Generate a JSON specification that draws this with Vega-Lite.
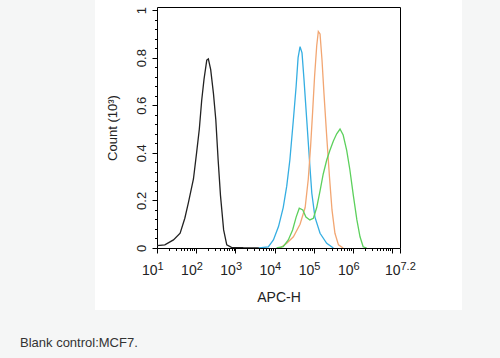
{
  "$schema": "https://vega.github.io/schema/vega-lite/v6.json",
  "width": 243,
  "height": 241,
  "autosize": "none",
  "padding": {"left": 157, "top": 7, "right": 100, "bottom": 110},
  "background": "#f5f6f6",
  "config": {
    "font": "Liberation Sans",
    "view": {"stroke": "white", "strokeWidth": 124, "fill": "white"},
    "axis": {"domainColor": "#000", "tickColor": "#000", "labelColor": "#222", "titleColor": "#222", "titleFontWeight": "normal", "grid": false, "labelFont": "Liberation Sans", "titleFont": "Liberation Sans"}
  },
  "title": {"text": "Blank control:MCF7.", "orient": "bottom", "anchor": "start", "frame": "group", "dx": -137, "offset": 33, "fontSize": 13, "fontWeight": "normal", "color": "#333", "font": "Liberation Sans"},
  "data": {"values": [
    {"sample": "Blank control", "log_apc": 1.0, "count": 0.01},
    {"sample": "Blank control", "log_apc": 1.2, "count": 0.013},
    {"sample": "Blank control", "log_apc": 1.42, "count": 0.034},
    {"sample": "Blank control", "log_apc": 1.59, "count": 0.062},
    {"sample": "Blank control", "log_apc": 1.71, "count": 0.125},
    {"sample": "Blank control", "log_apc": 1.8, "count": 0.19},
    {"sample": "Blank control", "log_apc": 1.93, "count": 0.29},
    {"sample": "Blank control", "log_apc": 2.01, "count": 0.4},
    {"sample": "Blank control", "log_apc": 2.08, "count": 0.5},
    {"sample": "Blank control", "log_apc": 2.14, "count": 0.62},
    {"sample": "Blank control", "log_apc": 2.2, "count": 0.71},
    {"sample": "Blank control", "log_apc": 2.27, "count": 0.79},
    {"sample": "Blank control", "log_apc": 2.31, "count": 0.795},
    {"sample": "Blank control", "log_apc": 2.37, "count": 0.75},
    {"sample": "Blank control", "log_apc": 2.44, "count": 0.65},
    {"sample": "Blank control", "log_apc": 2.5, "count": 0.54},
    {"sample": "Blank control", "log_apc": 2.56, "count": 0.37},
    {"sample": "Blank control", "log_apc": 2.62, "count": 0.22},
    {"sample": "Blank control", "log_apc": 2.7, "count": 0.076},
    {"sample": "Blank control", "log_apc": 2.78, "count": 0.013},
    {"sample": "Blank control", "log_apc": 2.9, "count": 0.003},
    {"sample": "Blank control", "log_apc": 3.2, "count": 0.001},
    {"sample": "Blank control", "log_apc": 3.6, "count": 0},
    {"sample": "Sample 1", "log_apc": 3.6, "count": 0},
    {"sample": "Sample 1", "log_apc": 3.84, "count": 0.005},
    {"sample": "Sample 1", "log_apc": 3.97, "count": 0.034},
    {"sample": "Sample 1", "log_apc": 4.1, "count": 0.09},
    {"sample": "Sample 1", "log_apc": 4.22, "count": 0.17},
    {"sample": "Sample 1", "log_apc": 4.31, "count": 0.26},
    {"sample": "Sample 1", "log_apc": 4.39, "count": 0.37},
    {"sample": "Sample 1", "log_apc": 4.48, "count": 0.54},
    {"sample": "Sample 1", "log_apc": 4.55, "count": 0.68},
    {"sample": "Sample 1", "log_apc": 4.6, "count": 0.8},
    {"sample": "Sample 1", "log_apc": 4.65, "count": 0.846},
    {"sample": "Sample 1", "log_apc": 4.7, "count": 0.82},
    {"sample": "Sample 1", "log_apc": 4.75, "count": 0.71},
    {"sample": "Sample 1", "log_apc": 4.82, "count": 0.54},
    {"sample": "Sample 1", "log_apc": 4.89, "count": 0.37},
    {"sample": "Sample 1", "log_apc": 4.95, "count": 0.23},
    {"sample": "Sample 1", "log_apc": 5.03, "count": 0.13},
    {"sample": "Sample 1", "log_apc": 5.16, "count": 0.062},
    {"sample": "Sample 1", "log_apc": 5.33, "count": 0.02},
    {"sample": "Sample 1", "log_apc": 5.5, "count": 0},
    {"sample": "Sample 2", "log_apc": 4.14, "count": 0},
    {"sample": "Sample 2", "log_apc": 4.31, "count": 0.02},
    {"sample": "Sample 2", "log_apc": 4.48, "count": 0.047},
    {"sample": "Sample 2", "log_apc": 4.65, "count": 0.1},
    {"sample": "Sample 2", "log_apc": 4.78, "count": 0.17},
    {"sample": "Sample 2", "log_apc": 4.86, "count": 0.29},
    {"sample": "Sample 2", "log_apc": 4.92, "count": 0.43},
    {"sample": "Sample 2", "log_apc": 4.97, "count": 0.57},
    {"sample": "Sample 2", "log_apc": 5.02, "count": 0.72},
    {"sample": "Sample 2", "log_apc": 5.075, "count": 0.85},
    {"sample": "Sample 2", "log_apc": 5.116, "count": 0.91},
    {"sample": "Sample 2", "log_apc": 5.16, "count": 0.9},
    {"sample": "Sample 2", "log_apc": 5.21, "count": 0.79},
    {"sample": "Sample 2", "log_apc": 5.26, "count": 0.65},
    {"sample": "Sample 2", "log_apc": 5.33, "count": 0.47},
    {"sample": "Sample 2", "log_apc": 5.4, "count": 0.3},
    {"sample": "Sample 2", "log_apc": 5.465, "count": 0.16},
    {"sample": "Sample 2", "log_apc": 5.54, "count": 0.062},
    {"sample": "Sample 2", "log_apc": 5.63, "count": 0.013},
    {"sample": "Sample 2", "log_apc": 5.75, "count": 0},
    {"sample": "Sample 3", "log_apc": 4.05, "count": 0},
    {"sample": "Sample 3", "log_apc": 4.22, "count": 0.006},
    {"sample": "Sample 3", "log_apc": 4.35, "count": 0.034},
    {"sample": "Sample 3", "log_apc": 4.46, "count": 0.076},
    {"sample": "Sample 3", "log_apc": 4.55, "count": 0.13},
    {"sample": "Sample 3", "log_apc": 4.63, "count": 0.167},
    {"sample": "Sample 3", "log_apc": 4.72, "count": 0.16},
    {"sample": "Sample 3", "log_apc": 4.8, "count": 0.13},
    {"sample": "Sample 3", "log_apc": 4.9, "count": 0.118},
    {"sample": "Sample 3", "log_apc": 4.99, "count": 0.125},
    {"sample": "Sample 3", "log_apc": 5.075, "count": 0.17},
    {"sample": "Sample 3", "log_apc": 5.16, "count": 0.24},
    {"sample": "Sample 3", "log_apc": 5.24, "count": 0.31},
    {"sample": "Sample 3", "log_apc": 5.33, "count": 0.37},
    {"sample": "Sample 3", "log_apc": 5.41, "count": 0.41},
    {"sample": "Sample 3", "log_apc": 5.5, "count": 0.45},
    {"sample": "Sample 3", "log_apc": 5.585, "count": 0.48},
    {"sample": "Sample 3", "log_apc": 5.67, "count": 0.5},
    {"sample": "Sample 3", "log_apc": 5.75, "count": 0.475},
    {"sample": "Sample 3", "log_apc": 5.84, "count": 0.41},
    {"sample": "Sample 3", "log_apc": 5.92, "count": 0.33},
    {"sample": "Sample 3", "log_apc": 6.01, "count": 0.22},
    {"sample": "Sample 3", "log_apc": 6.1, "count": 0.118},
    {"sample": "Sample 3", "log_apc": 6.18, "count": 0.047},
    {"sample": "Sample 3", "log_apc": 6.26, "count": 0.005},
    {"sample": "Sample 3", "log_apc": 6.35, "count": 0}
  ]},
  "layer": [
    {
      "mark": {"type": "line", "strokeWidth": 1.3, "clip": true},
      "encoding": {
        "x": {
          "field": "log_apc", "type": "quantitative",
          "scale": {"domain": [1, 7.2], "nice": false, "zero": false},
          "axis": {
            "orient": "bottom",
            "title": "APC-H", "titleFontSize": 14, "titlePadding": 13,
            "values": [1, 1.30103, 1.47712, 1.60206, 1.69897, 1.77815, 1.8451, 1.90309, 1.95424,
                       2, 2.30103, 2.47712, 2.60206, 2.69897, 2.77815, 2.8451, 2.90309, 2.95424,
                       3, 3.30103, 3.47712, 3.60206, 3.69897, 3.77815, 3.8451, 3.90309, 3.95424,
                       4, 4.30103, 4.47712, 4.60206, 4.69897, 4.77815, 4.8451, 4.90309, 4.95424,
                       5, 5.30103, 5.47712, 5.60206, 5.69897, 5.77815, 5.8451, 5.90309, 5.95424,
                       6, 6.30103, 6.47712, 6.60206, 6.69897, 6.77815, 6.8451, 6.90309, 6.95424,
                       7, 7.2],
            "labelExpr": "(datum.value % 1 == 0 && datum.value != 7) || datum.value == 7.2 ? '10' : ''",
            "labelFontSize": 14, "labelPadding": 10, "labelOverlap": false, "labelFlush": false,
            "labelAlign": "right", "labelDx": 4,
            "tickSize": {"condition": {"test": "datum.value % 1 == 0 || datum.value == 7.2", "value": 5}, "value": 2.5}
          }
        },
        "y": {
          "field": "count", "type": "quantitative",
          "scale": {"domain": [0, 1.013], "nice": false},
          "axis": {
            "orient": "left",
            "title": "Count (10³)", "titleFontSize": 13, "titlePadding": 16,
            "values": [0, 0.04, 0.08, 0.12, 0.16, 0.2, 0.24, 0.28, 0.32, 0.36, 0.4, 0.44, 0.48, 0.52, 0.56, 0.6, 0.64, 0.68, 0.72, 0.76, 0.8, 0.84, 0.88, 0.92, 0.96, 1],
            "labelExpr": "indexof([0, 0.2, 0.4, 0.6, 0.8, 1], datum.value) >= 0 ? toString(datum.value) : ''",
            "labelAngle": 270, "labelFontSize": 13, "labelPadding": 4, "labelOverlap": false, "labelFlush": false,
            "tickSize": {"condition": {"test": "indexof([0, 0.2, 0.4, 0.6, 0.8, 1], datum.value) >= 0", "value": 5}, "value": 2.5}
          }
        },
        "color": {
          "field": "sample", "type": "nominal",
          "scale": {"domain": ["Blank control", "Sample 1", "Sample 2", "Sample 3"], "range": ["#222222", "#35aee2", "#f2a672", "#5cd05c"]},
          "legend": null
        }
      }
    },
    {
      "mark": {"type": "line", "opacity": 0},
      "encoding": {
        "x": {"field": "log_apc", "type": "quantitative", "scale": {"domain": [1, 7.2], "nice": false, "zero": false},
              "axis": {"orient": "top", "title": null, "labels": false, "ticks": false, "domain": true, "domainColor": "#000"}},
        "y": {"field": "count", "type": "quantitative", "scale": {"domain": [0, 1.013], "nice": false},
              "axis": {"orient": "right", "title": null, "labels": false, "ticks": false, "domain": true, "domainColor": "#000"}},
        "detail": {"field": "sample", "type": "nominal"}
      }
    },
    {
      "mark": {"type": "line", "opacity": 0},
      "encoding": {
        "x": {"field": "log_apc", "type": "quantitative", "scale": {"domain": [1, 7.2], "nice": false, "zero": false},
              "axis": {"orient": "bottom", "title": null, "domain": false, "ticks": false, "tickSize": 0,
                       "values": [1, 2, 3, 4, 5, 6, 7.2],
                       "labelExpr": "toString(datum.value)",
                       "labelFontSize": 11, "labelPadding": 12, "labelAlign": "left", "labelDx": 5,
                       "labelOverlap": false, "labelFlush": false}},
        "y": {"field": "count", "type": "quantitative", "scale": {"domain": [0, 1.013], "nice": false}, "axis": null},
        "detail": {"field": "sample", "type": "nominal"}
      }
    }
  ],
  "resolve": {"axis": {"x": "independent", "y": "independent"}}
}
